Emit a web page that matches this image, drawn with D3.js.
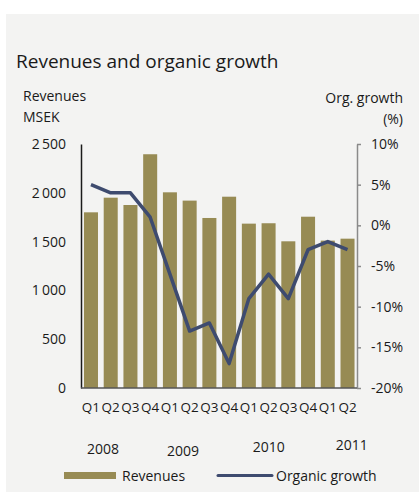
<!DOCTYPE html>
<html>
<head>
<meta charset="utf-8">
<script src="https://cdn.jsdelivr.net/npm/d3@7"></script>
<style>
  body { margin: 0; background: #ffffff; }
  text { font-family: "Open Sans", sans-serif; fill: #1a1a1a; }
</style>
</head>
<body>
<div id="chart"></div>
<script>
// data
var quarters = ["Q1","Q2","Q3","Q4","Q1","Q2","Q3","Q4","Q1","Q2","Q3","Q4","Q1","Q2"];
var revenues = [1800, 1950, 1875, 2395, 2005, 1920, 1742, 1960, 1684, 1688, 1503, 1755, 1510, 1530];
var growth = [5, 4, 4, 1, -6, -13, -12, -17, -9, -6, -9, -3, -2, -3];
var years = ["2008", "2009", "2010", "2011"];
var yearStart = [0, 4, 8, 12];
var revTicks = [0, 500, 1000, 1500, 2000, 2500];
var growthTicks = [-20, -15, -10, -5, 0, 5, 10];

var width = 419, height = 492;
var barColor = "#978b54", lineColor = "#3e4b6f";

var svg = d3.select("#chart").append("svg")
    .attr("width", width).attr("height", height);

// panel background
svg.append("rect").attr("x", 6).attr("y", 14)
    .attr("width", width - 6).attr("height", height - 14)
    .attr("fill", "#f3f3f2");

svg.append("text").attr("x", 16).attr("y", 68)
    .style("font-size", "19px")
    .text("Revenues and organic growth");

svg.append("text").attr("x", 23).attr("y", 101).style("font-size", "14px").text("Revenues");
svg.append("text").attr("x", 23).attr("y", 122).style("font-size", "14px").text("MSEK");
svg.append("text").attr("x", 403).attr("y", 103).attr("text-anchor", "end").style("font-size", "14px").text("Org. growth");
svg.append("text").attr("x", 403).attr("y", 124).attr("text-anchor", "end").style("font-size", "14px").text("(%)");

var pLeft = 81, pRight = 357, pTop = 144, pBottom = 388;

var x = d3.scaleBand().domain(d3.range(quarters.length))
    .range([pLeft + 1, pRight - 0.5]).paddingInner(0.29).paddingOuter(0.1);
var yL = d3.scaleLinear().domain([0, 2500]).range([pBottom, pTop]);
var yR = d3.scaleLinear().domain([-20, 10]).range([pBottom, pTop]);

// bars
svg.append("g").selectAll("rect")
  .data(revenues)
  .enter().append("rect")
    .attr("x", function(d, i){ return x(i); })
    .attr("y", function(d){ return yL(d); })
    .attr("width", x.bandwidth())
    .attr("height", function(d){ return pBottom - yL(d); })
    .attr("fill", barColor);

// left axis (line only, labels)
var gL = svg.append("g").attr("transform", "translate(" + pLeft + ",0)")
    .call(d3.axisLeft(yL).tickValues(revTicks).tickSize(0).tickPadding(15)
      .tickFormat(function(d){ return d3.format(",")(d).replace(",", "\u2009"); }));
gL.select(".domain").attr("stroke", "#1a1a1a").attr("stroke-width", 1.5);
gL.selectAll("text").style("font-size", "14px").style("font-family", "'Open Sans', sans-serif").attr("fill", "#1a1a1a");

// right axis
var gR = svg.append("g").attr("transform", "translate(" + pRight + ",0)")
    .call(d3.axisRight(yR).tickValues(growthTicks).tickSize(4).tickSizeOuter(0).tickPadding(10)
      .tickFormat(function(d){ return d + "%"; }));
gR.select(".domain").attr("stroke", "#8a8a8a").attr("stroke-width", 1.5);
gR.selectAll("line").attr("stroke", "#8a8a8a").attr("stroke-width", 1.5);
gR.selectAll("text").style("font-size", "14px").style("font-family", "'Open Sans', sans-serif").attr("fill", "#1a1a1a");

// bottom baseline
svg.append("line").attr("x1", pLeft).attr("x2", pRight).attr("y1", pBottom).attr("y2", pBottom)
    .attr("stroke", "#555").attr("stroke-width", 1.5);

// organic growth line
var line = d3.line()
    .x(function(d, i){ return x(i) + x.bandwidth() / 2; })
    .y(function(d){ return yR(d); });
svg.append("path").datum(growth)
    .attr("d", line)
    .attr("fill", "none")
    .attr("stroke", lineColor)
    .attr("stroke-width", 3.5)
    .attr("stroke-linejoin", "round");

// quarter labels
svg.append("g").selectAll("text")
  .data(quarters)
  .enter().append("text")
    .attr("x", function(d, i){ return x(i) + x.bandwidth() / 2; })
    .attr("y", 412)
    .attr("text-anchor", "middle")
    .style("font-size", "13.5px")
    .text(function(d){ return d; });

// year labels (slightly staggered as in the original)
var yearShift = [12, 13, 20, 24];
var yearY = [454, 456, 452, 450];
svg.append("g").selectAll("text")
  .data(years)
  .enter().append("text")
    .attr("x", function(d, i){ return x(yearStart[i]) + x.bandwidth() / 2 + yearShift[i]; })
    .attr("y", function(d, i){ return yearY[i]; })
    .attr("text-anchor", "middle")
    .style("font-size", "14px")
    .text(function(d){ return d; });

// legend
svg.append("rect").attr("x", 64).attr("y", 472).attr("width", 52).attr("height", 7).attr("fill", barColor);
svg.append("text").attr("x", 122).attr("y", 481).style("font-size", "14px").text("Revenues");
svg.append("line").attr("x1", 218).attr("x2", 272).attr("y1", 475.5).attr("y2", 475.5)
    .attr("stroke", lineColor).attr("stroke-width", 3).attr("stroke-linecap", "round");
svg.append("text").attr("x", 276).attr("y", 481).style("font-size", "14px").text("Organic growth");
</script>
</body>
</html>
